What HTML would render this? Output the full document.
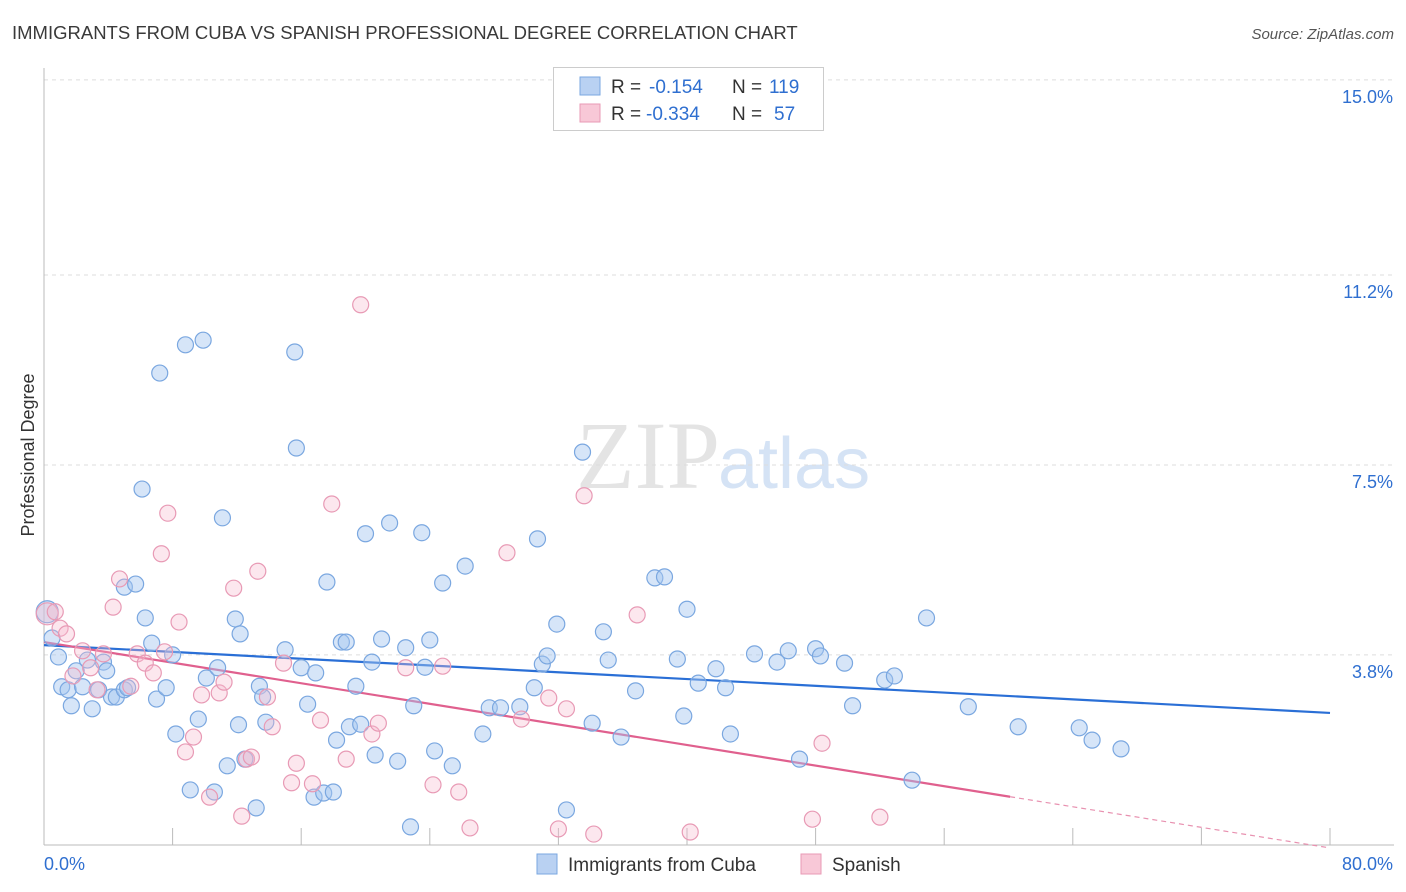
<!DOCTYPE html>
<html><head><meta charset="utf-8"><style>
body{margin:0;background:#fff;font-family:"Liberation Sans",sans-serif;}
#wrap{position:relative;width:1406px;height:892px;overflow:hidden;}
</style></head><body>
<div id="wrap">
<svg id="chart" width="1406" height="892" xmlns="http://www.w3.org/2000/svg">
<text x="12" y="39" font-size="18.5" fill="#3a3a3a">IMMIGRANTS FROM CUBA VS SPANISH PROFESSIONAL DEGREE CORRELATION CHART</text>
<text x="1394" y="39" font-size="15" fill="#555" font-style="italic" text-anchor="end">Source: ZipAtlas.com</text>
<text x="720" y="488" font-size="96" fill="#e4e4e4" text-anchor="end" font-family="Liberation Serif,serif">ZIP</text>
<text x="718" y="488" font-size="72" fill="#d5e3f5">atlas</text>
<text x="34" y="455" font-size="18" fill="#333" text-anchor="middle" transform="rotate(-90 34 455)">Professional Degree</text>
<g id="grid"></g><g id="axes"></g><g id="lines"></g><g id="pts"></g>
<g>
<rect x="553.5" y="67.5" width="270" height="63" fill="#fff" stroke="#ccc"/>
<rect x="580" y="77" width="20" height="18" fill="#b9d1f2" stroke="#7aa7e0"/>
<text x="611" y="93" font-size="19" fill="#333">R =</text>
<text x="649" y="93" font-size="19" fill="#2f6fd0">-0.154</text>
<text x="732" y="93" font-size="19" fill="#333">N =</text>
<text x="769" y="93" font-size="19" fill="#2f6fd0">119</text>
<rect x="580" y="104" width="20" height="18" fill="#f8c8d7" stroke="#e89ab5"/>
<text x="611" y="120" font-size="19" fill="#333">R =</text>
<text x="646" y="120" font-size="19" fill="#2f6fd0">-0.334</text>
<text x="732" y="120" font-size="19" fill="#333">N =</text>
<text x="774" y="120" font-size="19" fill="#2f6fd0">57</text>
</g>
<g>
<rect x="537" y="854" width="20" height="20" fill="#b9d1f2" stroke="#7aa7e0"/>
<text x="568" y="871" font-size="19" fill="#333">Immigrants from Cuba</text>
<rect x="801" y="854" width="20" height="20" fill="#f8c8d7" stroke="#e89ab5"/>
<text x="832" y="871" font-size="19" fill="#333">Spanish</text>
</g>
</svg></div>
<script>
const yTicks=[3.8,7.5,11.2,15.0];
const yTickLabels=["3.8%","7.5%","11.2%","15.0%"];
const xTicks=[0,8,16,24,32,40,48,56,64,72,80];
const xEdgeLabels=["0.0%","80.0%"];
const cubaX=[0.2,0.5,0.9,1.1,1.5,1.7,2.0,2.4,2.7,3.0,3.4,3.7,3.9,4.2,4.5,5.0,5.2,5.0,5.7,6.1,6.3,6.7,7.0,7.2,7.6,8.0,8.2,8.8,9.1,9.6,9.9,10.1,10.6,10.8,11.1,11.4,11.9,12.1,12.2,12.5,13.2,13.4,13.6,13.8,15.0,15.6,15.7,16.0,16.4,16.8,16.9,17.4,17.6,18.0,18.2,18.5,18.8,19.0,19.4,19.7,20.0,20.4,20.6,21.0,21.5,22.0,22.5,22.8,23.0,23.5,23.7,24.0,24.3,24.8,25.4,26.2,27.3,27.7,28.4,29.6,30.5,30.7,31.0,31.3,31.9,32.5,33.5,34.1,34.8,35.1,35.9,36.8,38.0,38.6,39.4,39.8,40.0,40.7,41.8,42.4,42.7,44.2,45.6,46.3,47.0,48.0,48.3,49.8,50.3,52.3,52.9,54.0,54.9,57.5,60.6,64.4,65.2,67.0];
const cubaY=[4.64,4.13,3.76,3.18,3.12,2.81,3.49,3.18,3.70,2.75,3.12,3.66,3.49,2.98,2.98,3.12,3.16,5.12,5.18,7.03,4.52,4.03,2.94,9.29,3.16,3.80,2.26,9.84,1.17,2.55,9.93,3.35,1.13,3.55,6.47,1.64,4.50,2.44,4.21,1.77,0.82,3.19,2.98,2.49,3.90,9.70,7.83,3.55,2.84,1.03,3.45,1.11,5.22,1.13,2.14,4.05,4.05,2.40,3.19,2.45,6.16,3.66,1.85,4.11,6.37,1.73,3.94,0.45,2.81,6.18,3.56,4.09,1.93,5.20,1.64,5.53,2.26,2.77,2.77,2.79,3.16,6.06,3.62,3.78,4.40,0.78,7.75,2.47,4.25,3.70,2.20,3.10,5.30,5.32,3.72,2.61,4.69,3.25,3.53,3.16,2.26,3.82,3.66,3.88,1.77,3.92,3.78,3.64,2.81,3.31,3.39,1.36,4.52,2.79,2.40,2.38,2.14,1.97];
const spanX=[0.2,0.7,1.0,1.4,1.8,2.4,2.9,3.3,3.7,4.3,4.7,5.4,5.8,6.3,6.8,7.5,7.7,7.3,8.4,8.8,9.3,9.8,10.3,10.9,11.2,11.8,12.3,12.6,12.9,13.3,13.9,14.2,14.9,15.4,15.7,16.7,17.2,17.9,18.8,19.7,20.4,20.8,22.5,24.2,24.8,25.8,26.5,28.8,29.7,31.4,32.0,32.5,33.6,34.2,36.9,40.2,47.8,48.4,52.0];
const spanY=[4.60,4.64,4.32,4.21,3.39,3.88,3.55,3.12,3.82,4.73,5.28,3.19,3.82,3.64,3.45,3.86,6.56,5.77,4.44,1.91,2.20,3.02,1.03,3.06,3.27,5.10,0.66,1.77,1.81,5.43,2.98,2.40,3.64,1.31,1.69,1.29,2.53,6.74,1.77,10.62,2.26,2.47,3.55,1.27,3.58,1.13,0.43,5.79,2.55,2.96,0.41,2.75,6.90,0.31,4.58,0.35,0.60,2.08,0.64];
const cubaTrend=[3.99,2.67];
const spanTrend=[4.05,0.04];
const spanSolidEnd=60.1;

const NS="http://www.w3.org/2000/svg";
const X0=44,X1=1330,Y0=850,PPY=51.34;
const sx=v=>X0+(X1-X0)*v/80;
const sy=v=>Y0-v*PPY;
function mk(tag,attrs,parent){const e=document.createElementNS(NS,tag);for(const k in attrs)e.setAttribute(k,attrs[k]);parent.appendChild(e);return e;}
const grid=document.getElementById('grid'),axes=document.getElementById('axes'),lines=document.getElementById('lines'),pts=document.getElementById('pts');
yTicks.forEach((t,i)=>{
 const l=mk('line',{x1:X0,x2:1394,y1:sy(t),y2:sy(t),stroke:'#ddd','stroke-dasharray':'4,4'},grid);
 
 
 const tx=mk('text',{x:1393,y:sy(t)+23,'font-size':18,fill:'#2f6fd0','text-anchor':'end'},axes);
 tx.textContent=yTickLabels[i];
 
 
});
const ax=mk('line',{x1:X0,x2:1394,y1:845,y2:845,stroke:'#bbb'},axes);


const ay=mk('line',{x1:X0,x2:X0,y1:68,y2:845,stroke:'#bbb'},axes);


xTicks.forEach(t=>{
 const l=mk('line',{x1:sx(t),x2:sx(t),y1:828,y2:845,stroke:'#bbb'},axes);
 
 
});
const xl0=mk('text',{x:44,y:870,'font-size':18,fill:'#2f6fd0'},axes);xl0.textContent=xEdgeLabels[0];


const xl1=mk('text',{x:1393,y:870,'font-size':18,fill:'#2f6fd0','text-anchor':'end'},axes);xl1.textContent=xEdgeLabels[1];


function dots(xs,ys,stroke,fill,name){xs.forEach((x,i)=>{
 const c=mk('circle',{cx:sx(x),cy:sy(ys[i]),r:i===0?11:8,fill:fill,stroke:stroke,'stroke-width':1.2},pts);
 
 
});}
dots(cubaX,cubaY,'#7aa7e0','rgba(165,198,240,0.45)','cuba-point');
dots(spanX,spanY,'#e89ab5','rgba(246,185,205,0.35)','spanish-point');
const bl=mk('line',{x1:sx(0),y1:sy(cubaTrend[0]),x2:sx(80),y2:sy(cubaTrend[1]),stroke:'#2a6fd6','stroke-width':2.2},lines);


const py=v=>spanTrend[0]+(spanTrend[1]-spanTrend[0])*v/80;
const pl=mk('line',{x1:sx(0),y1:sy(spanTrend[0]),x2:sx(spanSolidEnd),y2:sy(py(spanSolidEnd)),stroke:'#e0608e','stroke-width':2.2},lines);


const pd=mk('line',{x1:sx(spanSolidEnd),y1:sy(py(spanSolidEnd)),x2:sx(80),y2:sy(spanTrend[1]),stroke:'#e891b0','stroke-width':1.2,'stroke-dasharray':'5,4'},lines);


</script>
</body></html>
